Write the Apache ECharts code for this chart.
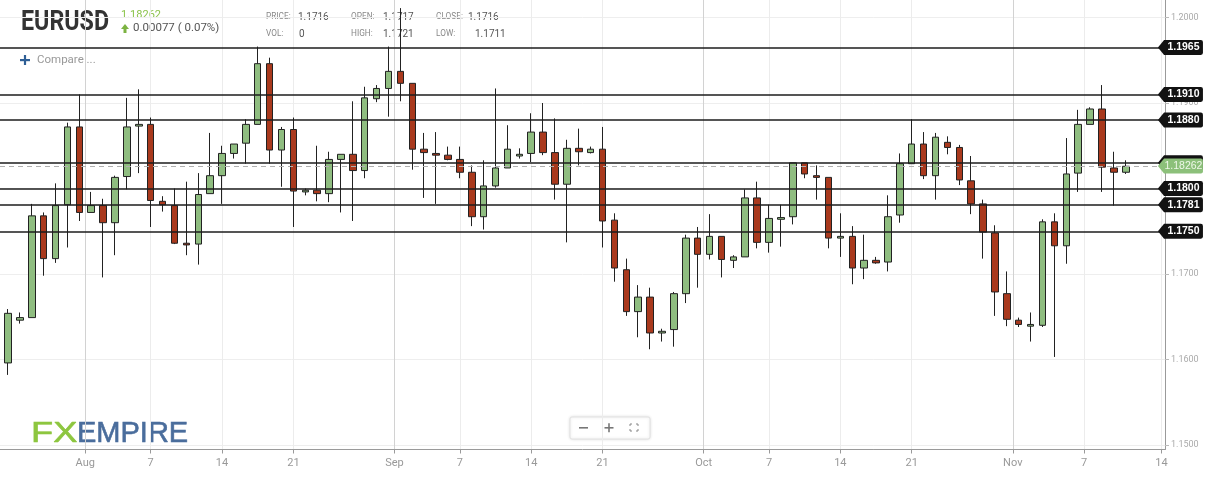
<!DOCTYPE html>
<html><head><meta charset="utf-8">
<script src="https://cdn.jsdelivr.net/npm/echarts@6/dist/echarts.min.js"></script>
<style>html,body{margin:0;padding:0;background:#fff}#c{width:1217px;height:478px}</style>
</head><body><div id="c"></div>
<script>
const dates = ['2020-07-24','2020-07-26','2020-07-27','2020-07-28','2020-07-29','2020-07-30','2020-07-31',
'2020-08-02','2020-08-03','2020-08-04','2020-08-05','2020-08-06','2020-08-07',
'2020-08-09','2020-08-10','2020-08-11','2020-08-12','2020-08-13','2020-08-14',
'2020-08-16','2020-08-17','2020-08-18','2020-08-19','2020-08-20','2020-08-21',
'2020-08-23','2020-08-24','2020-08-25','2020-08-26','2020-08-27','2020-08-28',
'2020-08-30','2020-08-31','2020-09-01','2020-09-02','2020-09-03','2020-09-04',
'2020-09-06','2020-09-07','2020-09-08','2020-09-09','2020-09-10','2020-09-11',
'2020-09-13','2020-09-14','2020-09-15','2020-09-16','2020-09-17','2020-09-18',
'2020-09-20','2020-09-21','2020-09-22','2020-09-23','2020-09-24','2020-09-25',
'2020-09-27','2020-09-28','2020-09-29','2020-09-30','2020-10-01','2020-10-02',
'2020-10-04','2020-10-05','2020-10-06','2020-10-07','2020-10-08','2020-10-09',
'2020-10-11','2020-10-12','2020-10-13','2020-10-14','2020-10-15','2020-10-16',
'2020-10-18','2020-10-19','2020-10-20','2020-10-21','2020-10-22','2020-10-23',
'2020-10-25','2020-10-26','2020-10-27','2020-10-28','2020-10-29','2020-10-30',
'2020-11-01','2020-11-02','2020-11-03','2020-11-04','2020-11-05','2020-11-06',
'2020-11-08','2020-11-09','2020-11-10','2020-11-11'];

const open = [1.1596,1.1646,1.1649,1.1768,1.1718,1.1781,1.1872,1.1772,1.1780,1.1760,
1.1814,1.1873,1.1875,1.1785,1.1780,1.1736,1.1735,1.1794,1.1815,1.1841,
1.1853,1.1875,1.1946,1.1845,1.1869,1.1796,1.1798,1.1794,1.1834,1.1840,
1.1821,1.1905,1.1917,1.1937,1.1923,1.1846,1.1841,1.1839,1.1834,1.1819,
1.1767,1.1803,1.1824,1.1838,1.1841,1.1866,1.1842,1.1805,1.1847,1.1842,
1.1846,1.1763,1.1705,1.1656,1.1673,1.1631,1.1635,1.1677,1.1742,1.1723,
1.1744,1.1716,1.1720,1.1789,1.1737,1.1764,1.1767,1.1830,1.1815,1.1813,
1.1742,1.1744,1.1707,1.1716,1.1714,1.1769,1.1829,1.1852,1.1815,1.1854,
1.1848,1.1809,1.1782,1.1748,1.1677,1.1646,1.1639,1.1640,1.1761,1.1733,
1.1818,1.1875,1.1893,1.1824,1.1819];

const close = [1.1654,1.1649,1.1768,1.1718,1.1780,1.1872,1.1772,1.1780,1.1760,1.1813,
1.1872,1.1875,1.1786,1.1781,1.1736,1.1734,1.1793,1.1815,1.1841,1.1852,
1.1875,1.1946,1.1845,1.1869,1.1797,1.1798,1.1794,1.1834,1.1840,1.1821,
1.1906,1.1917,1.1937,1.1923,1.1846,1.1842,1.1839,1.1834,1.1819,1.1767,
1.1803,1.1824,1.1846,1.1840,1.1866,1.1842,1.1805,1.1847,1.1843,1.1846,
1.1762,1.1707,1.1656,1.1673,1.1631,1.1633,1.1677,1.1742,1.1723,1.1744,
1.1717,1.1720,1.1789,1.1737,1.1765,1.1766,1.1830,1.1817,1.1813,1.1742,
1.1744,1.1707,1.1716,1.1713,1.1767,1.1829,1.1852,1.1815,1.1860,1.1848,
1.1810,1.1782,1.1749,1.1679,1.1647,1.1641,1.1641,1.1761,1.1733,1.1817,
1.1875,1.1893,1.1825,1.1819,1.1826];

const low = [1.1582,1.1642,1.1649,1.1698,1.1713,1.1731,1.1762,1.1772,1.1696,1.1722,
1.1799,1.1818,1.1755,1.1773,1.1735,1.1722,1.1711,1.1794,1.1782,1.1835,
1.1829,1.1875,1.1829,1.1802,1.1755,1.1792,1.1785,1.1784,1.1772,1.1762,
1.1812,1.1901,1.1884,1.1902,1.1822,1.1789,1.1782,1.1833,1.1812,1.1756,
1.1752,1.1801,1.1824,1.1835,1.1831,1.1839,1.1787,1.1737,1.1827,1.1841,
1.1731,1.1691,1.1651,1.1626,1.1612,1.1621,1.1615,1.1666,1.1684,1.1717,
1.1696,1.1707,1.1720,1.1730,1.1725,1.1732,1.1758,1.1812,1.1787,1.1730,
1.1720,1.1688,1.1694,1.1712,1.1703,1.1760,1.1829,1.1811,1.1787,1.1840,
1.1804,1.1770,1.1718,1.1651,1.1639,1.1638,1.1621,1.1638,1.1603,1.1712,
1.1796,1.1875,1.1796,1.1780,1.1817];

const high = [1.1659,1.1655,1.1782,1.1772,1.1806,1.1877,1.1910,1.1796,1.1788,1.1815,
1.1906,1.1916,1.1883,1.1791,1.1800,1.1808,1.1818,1.1865,1.1850,1.1852,
1.1881,1.1966,1.1953,1.1872,1.1883,1.1800,1.1850,1.1843,1.1840,1.1902,
1.1919,1.1921,1.1966,1.2011,1.1923,1.1865,1.1866,1.1849,1.1849,1.1827,
1.1833,1.1917,1.1874,1.1847,1.1888,1.1900,1.1882,1.1857,1.1870,1.1849,
1.1872,1.1771,1.1718,1.1687,1.1684,1.1636,1.1679,1.1746,1.1755,1.1770,
1.1744,1.1722,1.1799,1.1808,1.1781,1.1781,1.1830,1.1830,1.1827,1.1813,
1.1771,1.1756,1.1746,1.1720,1.1792,1.1841,1.1881,1.1866,1.1865,1.1861,
1.1851,1.1838,1.1787,1.1757,1.1703,1.1649,1.1655,1.1764,1.1771,1.1859,
1.1892,1.1895,1.1921,1.1843,1.1833];

const levels = [1.1965, 1.1910, 1.1880, 1.1830, 1.1800, 1.1781, 1.1750];
const hiddenFlagLevel = 1.1830;
const lastPrice = 1.18262;
const yTicks = [1.15, 1.16, 1.17, 1.18, 1.19, 1.20];
const tickDates = ['2020-08-01','2020-08-07','2020-08-14','2020-08-21','2020-09-01','2020-09-07','2020-09-14','2020-09-21',
'2020-10-01','2020-10-07','2020-10-14','2020-10-21','2020-11-01','2020-11-07','2020-11-14'];
const tickLabels = ['Aug','7','14','21','Sep','7','14','21','Oct','7','14','21','Nov','7','14'];

function dayNum(s){ const p = s.split('-').map(Number); return Date.UTC(p[0], p[1]-1, p[2]) / 86400000; }
const dayNums = dates.map(dayNum);
function tickPos(s, isMonth){
  const t = dayNum(s), last = dayNums[dayNums.length-1];
  if (t > last) return dayNums.length - 1 + (t - last);
  const i = dayNums.findIndex(d => d >= t);
  if (isMonth || dayNums[i] !== t) return i - 0.5;
  return i;
}
const xTickVals = tickDates.map((d, k) => tickPos(d, isNaN(Number(tickLabels[k]))));
const xLabelMap = {};
xTickVals.forEach((v, k) => { xLabelMap[(Math.round(v*2)/2).toFixed(1)] = tickLabels[k]; });

const candleData = dates.map((d, i) => [i, open[i], close[i], low[i], high[i]]);

const flagPath = 'path://M0,7L6,0H42Q44,0 44,2V12Q44,14 42,14H6Z';
const flagItems = levels.map(v => ({
  name: v.toFixed(4), coord: [97, v], itemStyle: {color: '#121212'},
  label: {show: v !== hiddenFlagLevel, color: '#fff'}
}));
flagItems.push({name: lastPrice.toFixed(5), coord: [97, lastPrice], itemStyle: {color: '#8cc07a'}, label: {color: '#eef7e8', fontWeight: 'normal'}});

const lbl = (x, y, t) => ({type: 'text', x: x, y: y, scaleX: 0.92, style: {text: t, font: '9px Roboto', fill: '#888', verticalAlign: 'middle'}});
const val = (x, y, t) => ({type: 'text', x: x, y: y, style: {text: t, font: '10px Roboto', fill: '#555', verticalAlign: 'middle'}});

const chart = echarts.init(document.getElementById('c'), null, {renderer: 'canvas'});
chart.setOption({
  animation: false,
  backgroundColor: '#fff',
  grid: {left: 0, right: 52, top: 0, bottom: 28.5, containLabel: false, outerBoundsMode: 'none'},
  xAxis: {
    type: 'value', min: -0.673, max: 97.3,
    axisLine: {show: true, onZero: false, lineStyle: {color: '#9a9a9a', width: 1}},
    axisTick: {show: true, customValues: xTickVals, length: 4, lineStyle: {color: '#9a9a9a'}},
    axisLabel: {customValues: xTickVals, color: '#999', fontSize: 11, fontFamily: 'Roboto', margin: 8,
      formatter: v => xLabelMap[(Math.round(v*2)/2).toFixed(1)] || ''},
    splitLine: {show: true, lineStyle: {color: ['#d2d2d2', '#ececec', '#ececec', '#ececec'], width: 1}}
  },
  yAxis: {
    type: 'value', position: 'right', min: 1.149474, max: 1.202047, scale: true,
    axisLine: {show: true, onZero: false, lineStyle: {color: '#9a9a9a', width: 1}},
    axisTick: {show: true, customValues: yTicks, length: 4, lineStyle: {color: '#bbb'}},
    axisLabel: {customValues: yTicks, color: '#aaa', fontSize: 9, fontFamily: 'Roboto', margin: 6,
      formatter: v => v.toFixed(4)},
    splitLine: {show: true, lineStyle: {color: '#eeeeee', width: 1}}
  },
  series: [{
    type: 'candlestick',
    data: candleData,
    encode: {x: 0, y: [1, 2, 3, 4]},
    barWidth: 7,
    itemStyle: {color: '#8fbd80', color0: '#a9391d', borderColor: '#222', borderColor0: '#222', borderColorDoji: '#222', borderWidth: 1},
    markLine: {
      silent: true, symbol: ['none', 'none'], label: {show: false}, animation: false, precision: 6,
      data: levels.map(v => ({yAxis: v, lineStyle: {color: '#1c1c1c', width: 1.5, type: 'solid'}}))
        .concat([{yAxis: lastPrice, lineStyle: {color: '#b0b0b0', width: 1, type: [5, 4]}}])
    },
    markPoint: {
      silent: true, animation: false,
      symbol: flagPath, symbolSize: [45, 15], symbolOffset: [19, 0], symbolKeepAspect: false,
      label: {show: true, position: 'inside', formatter: '{b}', fontSize: 10.5, fontWeight: 'bold',
        fontFamily: 'Liberation Sans, Arial', offset: [3, 0]},
      data: flagItems
    }
  }],
  graphic: [
    {type: 'text', x: 21, y: 23, scaleX: 0.83, style: {text: 'EURUSD', font: 'bold 28px Roboto', fill: '#333', verticalAlign: 'middle'}},
    {type: 'text', x: 121, y: 15, style: {text: '1.18262', font: '11px Roboto', fill: '#8bc34a', verticalAlign: 'middle'}},
    {type: 'polygon', shape: {points: [[121, 29], [125, 24], [129, 29]]}, style: {fill: '#7cb342'}},
    {type: 'rect', shape: {x: 123.5, y: 29, width: 3, height: 4}, style: {fill: '#7cb342'}},
    {type: 'text', x: 133, y: 28, style: {text: '0.00077 ( 0.07%)', font: '11.5px Roboto', fill: '#555', verticalAlign: 'middle'}},
    lbl(266, 17, 'PRICE:'), val(298, 17, '1.1716'),
    lbl(266, 34, 'VOL:'), val(299, 34, '0'),
    lbl(351, 17, 'OPEN:'), val(383, 17, '1.1717'),
    lbl(351, 34, 'HIGH:'), val(383, 34, '1.1721'),
    lbl(436, 17, 'CLOSE:'), val(468, 17, '1.1716'),
    lbl(436, 34, 'LOW:'), val(475, 34, '1.1711'),
    {type: 'rect', shape: {x: 20, y: 59, width: 10, height: 2.2}, style: {fill: '#2f5f95'}},
    {type: 'rect', shape: {x: 23.9, y: 55, width: 2.2, height: 10}, style: {fill: '#2f5f95'}},
    {type: 'text', x: 37, y: 60, style: {text: 'Compare ...', font: '11.5px Roboto', fill: '#999', verticalAlign: 'middle'}},
    {type: 'text', x: 31, y: 434, scaleX: 1.25, style: {text: 'FX', font: '29px "Liberation Sans"', fill: '#8dc63f', stroke: '#8dc63f', lineWidth: 0.6, verticalAlign: 'middle'}},
    {type: 'text', x: 77, y: 434, style: {text: 'EMPIRE', font: '29px "Liberation Sans"', fill: '#4a6d9c', stroke: '#4a6d9c', lineWidth: 0.6, verticalAlign: 'middle'}},
    {type: 'rect', shape: {x: 570, y: 417, width: 80, height: 22, r: 2}, style: {fill: '#fff', stroke: '#e2e2e2', lineWidth: 1, shadowBlur: 3, shadowColor: 'rgba(0,0,0,0.12)'}},
    {type: 'rect', shape: {x: 579, y: 427, width: 9, height: 1.6}, style: {fill: '#777'}},
    {type: 'rect', shape: {x: 604.5, y: 427, width: 9, height: 1.6}, style: {fill: '#777'}},
    {type: 'rect', shape: {x: 608.2, y: 423.3, width: 1.6, height: 9}, style: {fill: '#777'}},
    {type: 'polyline', shape: {points: [[630, 426], [630, 424], [632, 424]]}, style: {stroke: '#888', lineWidth: 1, fill: null}},
    {type: 'polyline', shape: {points: [[636, 424], [638, 424], [638, 426]]}, style: {stroke: '#888', lineWidth: 1, fill: null}},
    {type: 'polyline', shape: {points: [[630, 429], [630, 431], [632, 431]]}, style: {stroke: '#888', lineWidth: 1, fill: null}},
    {type: 'polyline', shape: {points: [[636, 431], [638, 431], [638, 429]]}, style: {stroke: '#888', lineWidth: 1, fill: null}}
  ]
});
</script>
</body></html>
